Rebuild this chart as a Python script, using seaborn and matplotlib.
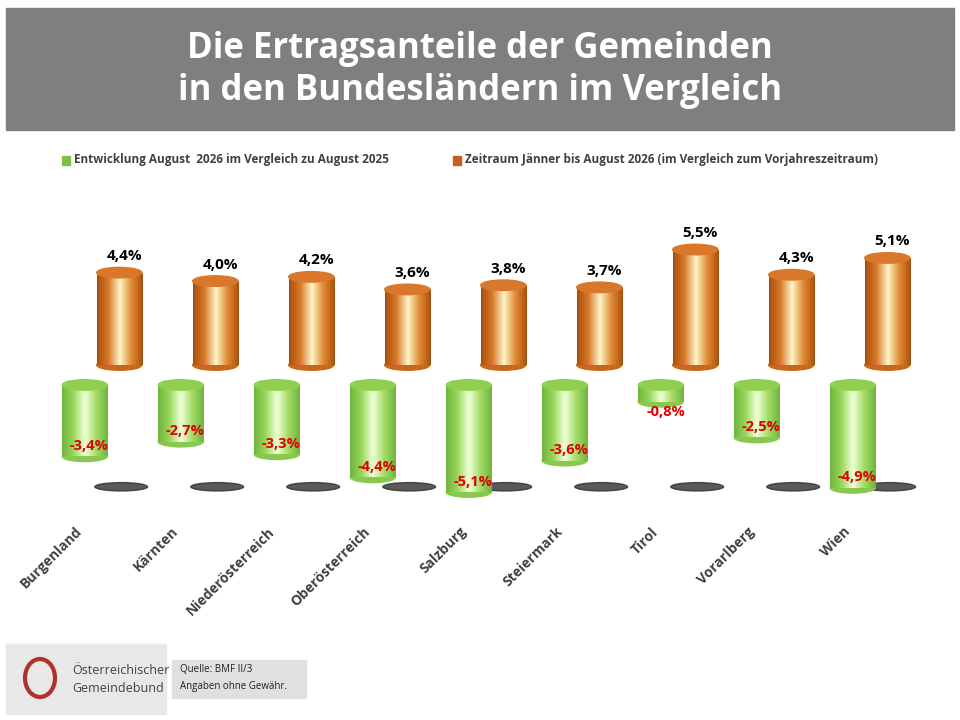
import numpy as np
import pandas as pd
import matplotlib
matplotlib.use("Agg")
import matplotlib.pyplot as plt
import seaborn as sns
from matplotlib.patches import Ellipse, Rectangle
from matplotlib.colors import LinearSegmentedColormap

laender = ["Burgenland", "Kärnten", "Niederösterreich", "Oberösterreich", "Salzburg",
           "Steiermark", "Tirol", "Vorarlberg", "Wien"]
aug = [-3.4, -2.7, -3.3, -4.4, -5.1, -3.6, -0.8, -2.5, -4.9]
jan_aug = [4.4, 4.0, 4.2, 3.6, 3.8, 3.7, 5.5, 4.3, 5.1]

sns.set_style("white")
plt.rcParams["font.family"] = ["Open Sans", "DejaVu Sans"]

fig = plt.figure(figsize=(9.6, 7.2), dpi=100)

# title banner
fig.patches.append(Rectangle((6/960, 1-130/720), 948/960, 122/720, transform=fig.transFigure,
                             color="#7f7f7f", zorder=0))
fig.text(0.5, 1-70/720, "Die Ertragsanteile der Gemeinden\nin den Bundesländern im Vergleich",
         ha="center", va="center", color="white", fontsize=25, fontweight="bold", linespacing=1.25)

# legend
fig.patches.append(Rectangle((62/960, 1-165/720), 8/960, 9/720, transform=fig.transFigure, color="#7dc242"))
fig.text(74/960, 1-160/720, "Entwicklung August  2026 im Vergleich zu August 2025",
         fontsize=8.5, fontweight="bold", va="center", color="#404040")
fig.patches.append(Rectangle((453/960, 1-165/720), 8/960, 9/720, transform=fig.transFigure, color="#c8601a"))
fig.text(465/960, 1-160/720, "Zeitraum Jänner bis August 2026 (im Vergleich zum Vorjahreszeitraum)",
         fontsize=8.5, fontweight="bold", va="center", color="#404040")

ax = fig.add_axes([30/960, 1-500/720, 900/960, 300/720])
gap = -0.95
df_o = pd.DataFrame({"land": laender, "wert": jan_aug})
df_g = pd.DataFrame({"land": laender, "wert": aug})
sns.barplot(data=df_o, x="land", y="wert", order=laender, color="#c8601a", width=0.47, ax=ax)
sns.barplot(data=df_g, x="land", y="wert", order=laender, color="#7dc242", width=0.47,
            bottom=gap, ax=ax)

cm_o = LinearSegmentedColormap.from_list("o", ["#a94e0c", "#d97a2a", "#fff6c8", "#e08a35", "#a94e0c"])
cm_g = LinearSegmentedColormap.from_list("g", ["#6fb43a", "#9ad65c", "#f0ffd8", "#a3db66", "#6fb43a"])
grad = np.linspace(0, 1, 256).reshape(1, -1)
eh = 0.5
n = len(laender)
for i, p in enumerate(ax.patches):
    orange = i < n
    x = p.get_x() + (0.18 if orange else -0.18)
    p.set_x(x)
    w = p.get_width()
    y0, h = p.get_y(), p.get_height()
    cm = cm_o if orange else cm_g
    im = ax.imshow(grad, cmap=cm, aspect="auto", extent=(x, x + w, y0, y0 + h), zorder=2)
    im.set_clip_path(p)
    bot = min(y0, y0 + h)
    top = max(y0, y0 + h)
    ax.add_patch(Ellipse((x + w/2, bot), w, eh, color=cm(0.15), zorder=1.9))
    ax.add_patch(Ellipse((x + w/2, top), w, eh, color="#d9772a" if orange else "#8fd04e", zorder=3))

for i in range(n):
    xo = i + 0.18
    ax.text(xo + 0.05, jan_aug[i] + 0.45, f"{jan_aug[i]:.1f}%".replace(".", ","),
            ha="center", va="bottom", fontsize=11, fontweight="bold", color="black")
    xg = i - 0.18
    yl = gap + aug[i] - 0.5 if aug[i] > -1.5 else gap + aug[i] + 0.5
    ax.text(xg + 0.05, yl, f"{aug[i]:.1f}%".replace(".", ","),
            ha="center", va="center", fontsize=10.5, fontweight="bold", color="#e00000", zorder=5)
    ax.add_patch(Ellipse((i + 0.2, -5.8), 0.55, 0.4, color="#303030", alpha=0.8, zorder=1))
    ax.text(i - 0.28, -7.6, laender[i], ha="right", va="top", rotation=45, rotation_mode="anchor",
            fontsize=10, fontweight="bold", color="#404040")

ax.set_xlim(-0.75, 8.625)
ax.set_ylim(-6.43, 7.86)
ax.axis("off")

# footer
fig.patches.append(Rectangle((6/960, 1-714/720), 160/960, 70/720, transform=fig.transFigure,
                             color="#e8e8e8", zorder=0))
fig.patches.append(Ellipse((40/960, 1-678/720), 30/960, 38/720, transform=fig.transFigure,
                           fill=False, ec="#b0302a", lw=3))
fig.text(72/960, 1-670/720, "Österreichischer", fontsize=9, color="#404040", va="center")
fig.text(72/960, 1-688/720, "Gemeindebund", fontsize=9, color="#404040", va="center")
fig.patches.append(Rectangle((172/960, 1-698/720), 134/960, 38/720, transform=fig.transFigure,
                             color="#e0e0e0", zorder=0))
fig.text(180/960, 1-670/720, "Quelle: BMF II/3", fontsize=7, color="#202020", va="center")
fig.text(180/960, 1-686/720, "Angaben ohne Gewähr.", fontsize=7, color="#202020", va="center")

fig.savefig("out.png", dpi=100)
